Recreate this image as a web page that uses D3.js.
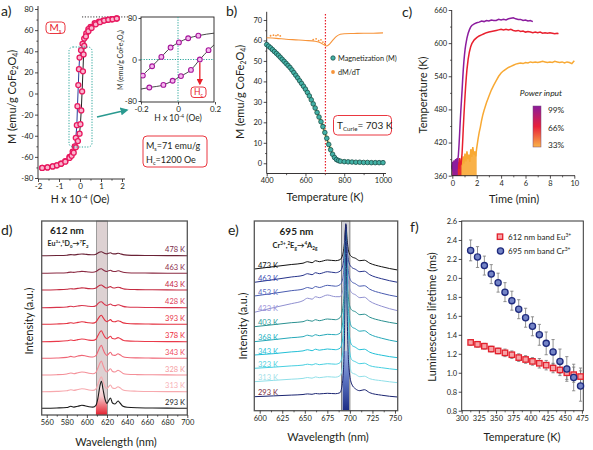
<!DOCTYPE html>
<html><head><meta charset="utf-8">
<script src="https://cdn.jsdelivr.net/npm/d3@7"></script>
<style>body{margin:0;background:#fff} svg{display:block}</style>
</head><body>
<script>
// ================= DATA =================
// Panel a: hysteresis loop
const hystDescH = [1.75,1.5,1.3,1.1,0.9,0.7,0.5,0.4,0.3,0.2,0.12,0.05,-0.02,-0.05,-0.08,-0.12,-0.15,-0.2,-0.25,-0.35,-0.5,-0.7,-0.9,-1.1,-1.3,-1.55,-1.8];
const hystDescM = [71,70.3,69.7,69,68,66.5,63,61,57,52,47,41,34,23,8,-12,-30,-42,-50,-55,-60,-64,-66.5,-68,-69,-70,-70.5];
const hystAscH = [-1.8,-1.55,-1.3,-1.1,-0.9,-0.7,-0.5,-0.4,-0.3,-0.2,-0.1,-0.02,0.02,0.06,0.1,0.14,0.17,0.2,0.28,0.4,0.55,0.75,0.95,1.15,1.35,1.55,1.75];
const hystAscM = [-70.5,-70,-69,-68,-66.5,-64.5,-61,-59,-56,-51,-45,-38,-29,-16,2,21,37,45,54,59,62,65.5,67.5,69,69.8,70.3,71];
const aXTicks = [-2,-1,0,1,2];
const aYTicks = [-80,-60,-40,-20,0,20,40,60,80];
// Panel a inset
const insUpH = [-0.2,-0.19,-0.14,-0.09,-0.04,0.005,0.055,0.11,0.2];
const insUpM = [-36,-31,-13,5,23,33,41,46,51];
const insLoH = [-0.2,-0.155,-0.079,-0.029,0.016,0.07,0.118,0.165,0.2];
const insLoM = [-57,-54,-49,-41,-32,-20,0,18,30];
const insXTicks = [-0.2,0,0.2];
const insYTicks = [-80,0,80];

// Panel b: magnetization vs temperature
const magT = [400,410,420,430,440,450,460,470,480,490,500,510,520,530,540,550,560,570,580,590,600,610,620,630,640,650,660,670,680,690,700,710,720,730,740,750,760,770,780,800,820,840,860,880,900,920,940,960,980,1000];
const magM = [58.0,57.2,56.4,55.5,54.6,53.7,52.8,51.8,50.8,49.8,48.8,47.8,46.8,45.6,44.3,43.0,41.7,40.3,39.0,37.6,36.2,34.6,32.9,31.0,29.0,27.0,24.8,22.6,20.3,17.9,15.0,12.2,9.2,6.6,4.4,2.8,1.8,1.3,1.0,0.8,0.7,0.6,0.5,0.5,0.4,0.4,0.3,0.3,0.3,0.3];
const dmdtT = [400,450,500,550,600,650,680,700,710,720,740,760,780,800,850,900,950,1000];
const dmdtV = [61.3,61.0,60.6,60.3,60.0,59.6,58.8,57.6,57.3,57.9,60.0,62.0,63.0,63.3,63.4,63.5,63.5,63.7];
const dmdtDotsT = [420,435,448,458,470,640,655,668,680,690,700];
const dmdtDotsV = [62.3,62.6,62.4,62.7,62.2,60.4,60.8,59.9,60.3,59.2,58.4];
const tCurie = 703;
const bXTicks = [400,600,800,1000];
const bYTicks = [0,10,20,30,40,50,60,70];

// Panel c: heating curves
const cPurpleT = [0,0.03,0.06,0.09,0.12,0.15,0.18,0.21,0.24,0.27,0.3,0.33,0.36,0.39,0.42,0.45,0.5,0.55,0.6,0.65,0.7,0.75,0.8,0.85,0.9,0.95,1.0,1.05,1.1,1.2,1.3,1.4,1.5,1.6,1.8,2.0,2.2,2.4,2.6,2.8,3.0,3.2,3.4,3.6,3.8,4.0,4.2,4.4,4.6,4.8,5.0,5.2,5.4,5.6,5.8,6.0,6.2,6.4,6.6];
const cPurpleV = [372,385,368,380,366,388,371,383,369,390,374,386,372,392,380,388,398,415,436,458,478,496,514,534,552,567,579,589,597,609,618,624,629,632,635,637,638,640,639,641,640,642,641,641,643,642,643,642,644,645,646,644,643,643,641,642,640,641,639];
const cRedT = [0,0.04,0.08,0.12,0.16,0.2,0.24,0.28,0.32,0.36,0.4,0.44,0.48,0.52,0.56,0.6,0.64,0.68,0.72,0.75,0.8,0.85,0.9,0.95,1.0,1.05,1.1,1.15,1.2,1.3,1.4,1.5,1.6,1.8,2.0,2.2,2.4,2.6,2.8,3.0,3.2,3.4,3.6,3.8,4.0,4.2,4.4,4.6,4.8,5.0,5.2,5.4,5.6,5.8,6.0,6.2,6.4,6.6,6.8,7.0,7.2,7.4,7.6,7.8,8.0,8.2,8.4,8.6,8.7];
const cRedV = [375,382,370,386,372,380,368,388,374,383,371,390,376,384,372,392,378,387,380,388,400,422,446,468,488,507,524,539,552,571,584,593,599,606,610,613,615,617,619,620,621,622,623,624,625,624,625,624,625,623,622,623,621,622,620,621,620,619,620,619,620,618,619,618,619,618,617,618,617];
const cOrangeT = [0,0.08,0.16,0.24,0.32,0.4,0.48,0.56,0.64,0.72,0.8,0.88,0.96,1.04,1.12,1.2,1.28,1.36,1.44,1.52,1.6,1.68,1.76,1.84,1.92,2.0,2.1,2.2,2.3,2.4,2.5,2.6,2.8,3.0,3.2,3.4,3.6,3.8,4.0,4.2,4.4,4.6,4.8,5.0,5.2,5.4,5.6,5.8,6.0,6.2,6.4,6.6,6.8,7.0,7.2,7.4,7.6,7.8,8.0,8.2,8.4,8.6,8.8,9.0,9.2,9.4,9.6,9.8,10.0];
const cOrangeV = [370,376,368,380,372,378,366,384,374,390,378,395,382,400,386,404,390,398,385,408,394,412,398,404,395,410,425,438,448,460,470,478,492,504,515,524,532,540,546,550,553,556,558,560,562,563,564,563,565,564,566,565,566,565,566,567,566,565,566,565,567,566,565,566,564,566,565,563,568];
const cNoiseEnd = [0.45,0.75,2.0];
const cSeriesNames = ["99%","66%","33%"];
const cXTicks = [0,2,4,6,8,10];
const cYTicks = [360,420,480,540,600,660];

// Panel d: Eu3+ emission spectra
const dWave = [555,570,580,584,587,591,595,598,602,606,609,611,613,614.5,616,618,620,621.5,623.5,625.5,628,631,633,636,640,650,665,680,700];
const dTemps = ["293 K","313 K","328 K","343 K","378 K","393 K","428 K","443 K","463 K","478 K"];
const dSpec293 = [6.7,7.0,7.5,8.7,7.9,8.7,9.7,9.3,8.3,7.9,9.7,17,29,33.7,26,16,11.7,14,17,12,11,14,12,8.7,7.7,7.2,7.0,6.9,6.7];
const dSpec313 = [23.3,23.6,24.2,25.3,24.6,25.5,26.3,26,25,24.6,26,31,36,38.3,34,28.5,26.5,28,30,27,26.5,28.2,27.2,25,24.2,23.8,23.5,23.4,23.3];
const dSpec328 = [40,40.3,41,42,41.3,42.3,43,42.7,41.7,41.3,42.7,47,52,54,50,45,43,44.5,46.3,43.5,43,44.8,43.8,41.6,40.8,40.4,40.2,40.1,40];
const dSpec343 = [56.7,57,57.6,58.6,58,59,59.6,59.3,58.3,58,59.3,63.5,68,69.7,66,61.5,59.6,61,62.7,60,59.6,61.2,60.2,58.2,57.5,57.1,56.9,56.8,56.7];
const dSpec378 = [73.3,73.6,74.2,75,74.5,75.4,76,75.7,74.9,74.6,75.8,79.5,83,84.3,81.5,77.8,76.2,77.3,78.7,76.4,76,77.4,76.6,74.8,74.1,73.7,73.5,73.4,73.3];
const dSpec393 = [90.7,91,91.5,92.3,91.8,92.6,93.2,92.9,92.2,91.9,93,96,98.8,99.7,97.6,94.6,93.3,94.2,95.4,93.5,93.2,94.3,93.7,92.1,91.5,91.1,90.9,90.8,90.7];
const dSpec428 = [107.3,107.6,108,108.7,108.3,109,109.5,109.3,108.7,108.5,109.3,111.3,113,113.3,112,110.2,109.5,110.2,111,109.7,109.4,110.3,109.8,108.6,108,107.7,107.5,107.4,107.3];
const dSpec443 = [125,125.3,125.7,126.3,126,126.6,127.1,126.9,126.4,126.2,126.9,128.5,129.8,130,129,127.6,127,127.7,128.4,127.2,127,127.8,127.4,126.3,125.7,125.4,125.2,125.1,125];
const dSpec463 = [141.7,142,142.3,142.9,142.6,143.2,143.6,143.4,143,142.8,143.4,144.8,146,146.2,145.3,144,143.5,144.2,144.8,143.8,143.5,144.2,143.8,142.8,142.3,142,141.9,141.8,141.7];
const dSpec478 = [159.3,159.5,159.8,160.4,160.1,160.6,161,160.8,160.4,160.2,160.8,162,163,163.3,162.5,161.5,161.1,161.7,162.2,161.3,161.1,161.7,161.3,160.4,159.9,159.6,159.5,159.4,159.3];
const dBand = [609.5,620.5];
const dXTicks = [560,580,600,620,640,660,680,700];

// Panel e: Cr3+ emission spectra
const eWave = [594,615,635,648,653,658,662,666,675,684,689,692,694,695.5,697,699,702,706,711,716,722,735,753];
const eTemps = ["293 K","313 K","323 K","343 K","368 K","403 K","423 K","453 K","463 K","473 K"];
const eSpec293 = [14,14.8,15.6,16.2,16.8,16.4,17.2,16.8,17.4,17,18,30,75,187,95,42,26.7,22,20,21,18,15.5,13.7];
const eSpec313 = [29,30.3,31.5,32.3,33.2,32.5,33.8,33,34,33.5,35,45,85,170,105,55,38,36.5,34,34.5,32,30,28];
const eSpec323 = [42.4,43.5,44.8,45.6,46.5,45.8,47,46,47,46.5,48,58,95,172,110,65,51,49,47,47.5,45,43,41];
const eSpec343 = [55.7,57,58.8,59.8,61,60,61.5,60.5,61.7,61,62.5,72,105,175,115,78,65.7,63.5,61,61.5,58.5,55.5,53];
const eSpec368 = [69,71,73,74,75.5,74.5,76,75,76.4,76,77.5,88,115,178,125,95,84,82,79.5,80,76.5,72.5,69];
const eSpec403 = [84,86,88,89,90.5,89.5,91,90,91.7,91,93,102,125,180,135,108,100.7,99,96,96.5,93.5,90,87];
const eSpec423 = [98.4,103,107,110,112.5,111.5,114,113,115.7,114,114,120,140,178,145,125,118,116,113,113.5,109.5,104.5,100];
const eSpec453 = [114.7,117.3,120,121.6,123.2,122.2,124.2,123.2,125.4,124.5,126,132,150,182,155,135,129,127,124.5,125,121.5,117.5,114];
const eSpec463 = [128.4,131,133.7,135.3,137,136,138,137,139,138,139.5,145,160,184,162,148,143.4,141.5,139,139.5,136,132,128.4];
const eSpec473 = [141.7,144,146.2,147.5,149,148,150,149,150.7,150,151,156,168,186,170,158,154,152.5,150,150.5,147.5,144,140.7];
const eBand = [690.8,700];
const eXTicks = [600,625,650,675,700,725,750];

// Panel f: luminescence lifetimes
const fTemps = [313,323,333,343,353,363,373,383,393,403,413,423,433,443,453,463,473];
const fEu = [1.32,1.30,1.28,1.25,1.23,1.21,1.19,1.16,1.14,1.12,1.10,1.08,1.05,1.03,1.00,0.98,0.96];
const fEuErr = [0.03,0.03,0.03,0.03,0.03,0.04,0.04,0.04,0.04,0.04,0.05,0.05,0.05,0.06,0.07,0.08,0.09];
const fCr = [2.29,2.22,2.13,2.04,1.95,1.85,1.76,1.67,1.58,1.49,1.40,1.31,1.22,1.12,1.04,0.95,0.86];
const fCrErr = [0.11,0.11,0.10,0.10,0.10,0.10,0.10,0.10,0.10,0.10,0.11,0.12,0.13,0.13,0.13,0.14,0.16];
const fXTicks = [300,325,350,375,400,425,450,475];
const fYTicks = [0.6,0.8,1.0,1.2,1.4,1.6,1.8,2.0,2.2,2.4,2.6];
const fYLabels = ["0.8","0.8","1.0","1.2","1.4","1.6","1.8","2.0","2.2","2.4","2.6"];

// ================= DRAWING =================
const FONT = "Lato, 'Open Sans', 'Liberation Sans', sans-serif";
const INK = "#231f20";
const svg = d3.select("body").append("svg").attr("width",593).attr("height",450).attr("font-family",FONT);
svg.append("rect").attr("width",593).attr("height",450).attr("fill","#fff");
const defs = svg.append("defs");

function grad(id, stops, x2, y2){
  const g = defs.append("linearGradient").attr("id",id).attr("x1",0).attr("y1",0).attr("x2",x2).attr("y2",y2);
  stops.forEach(s=>g.append("stop").attr("offset",s[0]).attr("stop-color",s[1]));
}
grad("cbar",[[0,"#8a1c9c"],[0.5,"#e8203a"],[1,"#f9b347"]],0,1);
grad("dfill",[[0,"#ffffff"],[0.45,"#f6c9cc"],[1,"#e3202e"]],0,1);
grad("efill",[[0,"#9fb4e4"],[0.5,"#5a72c0"],[1,"#1c2c84"]],0,1);

function rich(g, x, y, parts, o={}){
  const size = o.size||9;
  const t = g.append("text").attr("x",x).attr("y",y).attr("font-size",size)
    .attr("fill",o.fill||INK).attr("text-anchor",o.anchor||"start")
    .attr("font-weight",o.weight||"normal");
  if (o.rotate) t.attr("transform",`rotate(${o.rotate},${x},${y})`);
  if (o.italic) t.attr("font-style","italic");
  let shift = 0;
  parts.forEach(p=>{
    const s = Array.isArray(p)?p[0]:p, k = Array.isArray(p)?p[1]:"n";
    const target = k==="sub" ? 0.22*size : (k==="sup" ? -0.36*size : 0);
    const ts = t.append("tspan").text(s).attr("dy", (target-shift).toFixed(2));
    if (k!=="n") ts.attr("font-size", (0.62*size).toFixed(2));
    shift = target;
  });
  return t;
}
function axis(g, kind, scale, pos, o){
  const gen = kind==="bottom"?d3.axisBottom:d3.axisLeft;
  const tr = kind==="bottom"?`translate(0,${pos})`:`translate(${pos},0)`;
  const size = o.size||3;
  const gg = g.append("g").attr("transform",tr)
    .call(gen(scale).tickValues(o.values).tickSize(size).tickPadding(o.pad||1.5).tickFormat(o.format||(d=>String(d))));
  gg.select(".domain").remove();
  gg.selectAll("line").attr("stroke",INK).attr("stroke-width",0.8);
  gg.selectAll("text").attr("font-size",o.fs||7.5).attr("fill",INK).attr("font-family",FONT);
  if (o.minor){
    const mg = g.append("g").attr("transform",tr).call(gen(scale).tickValues(o.minor).tickSize(size*0.55).tickFormat(""));
    mg.select(".domain").remove();
    mg.selectAll("line").attr("stroke",INK).attr("stroke-width",0.7);
  }
  return gg;
}
function hline(g,x1,x2,y,o={}){g.append("line").attr("x1",x1).attr("x2",x2).attr("y1",y).attr("y2",y).attr("stroke",o.c||INK).attr("stroke-width",o.w||0.9).attr("stroke-dasharray",o.dash||null);}
function vline(g,x,y1,y2,o={}){g.append("line").attr("x1",x).attr("x2",x).attr("y1",y1).attr("y2",y2).attr("stroke",o.c||INK).attr("stroke-width",o.w||0.9).attr("stroke-dasharray",o.dash||null);}
function pathXY(xs, ys, xS, yS, curve){
  return d3.line().x((d,i)=>xS(xs[i])).y(d=>yS(d)).curve(curve||d3.curveLinear)(ys);
}
function plabel(x,y,s){ svg.append("text").attr("x",x).attr("y",y).attr("font-size",14).attr("fill",INK).text(s); }

// ---------- Panel a ----------
{
  const g = svg.append("g");
  const x = d3.scaleLinear().domain([-2,2]).range([38,122]);
  const y = d3.scaleLinear().domain([-80,80]).range([178,9]);
  vline(g,38,6,179); hline(g,38,125,179);
  axis(g,"left",y,38,{values:aYTicks,minor:[-70,-50,-30,-10,10,30,50,70],fs:8});
  axis(g,"bottom",x,179,{values:aXTicks,minor:[-1.5,-0.5,0.5,1.5],fs:8});
  hline(g,82,128,y(72.5),{dash:"1.2,1.6",w:0.9});
  g.append("path").attr("d",pathXY(hystDescH,hystDescM,x,y)).attr("fill","none").attr("stroke","#2b3a98").attr("stroke-width",1);
  g.append("path").attr("d",pathXY(hystAscH,hystAscM,x,y)).attr("fill","none").attr("stroke","#222").attr("stroke-width",1);
  const pts = hystDescH.map((h,i)=>[h,hystDescM[i]]).concat(hystAscH.map((h,i)=>[h,hystAscM[i]]));
  g.selectAll("circle.m").data(pts).join("circle").attr("cx",d=>x(d[0])).attr("cy",d=>y(d[1])).attr("r",2.5)
    .attr("fill","#f9b6cf").attr("stroke","#e8185f").attr("stroke-width",1.3);
  g.append("rect").attr("x",69).attr("y",47).attr("width",23).attr("height",100).attr("rx",4)
    .attr("fill","none").attr("stroke","#2aa59a").attr("stroke-width",1).attr("stroke-dasharray","1.2,1.5");
  defs.append("marker").attr("id","tealArrow").attr("viewBox","0 0 10 10").attr("refX",8).attr("refY",5)
    .attr("markerWidth",5).attr("markerHeight",5).attr("orient","auto")
    .append("path").attr("d","M0,0L10,5L0,10z").attr("fill","#2a9a90");
  g.append("line").attr("x1",97).attr("y1",117).attr("x2",127).attr("y2",110).attr("stroke","#2a9a90").attr("stroke-width",1.6).attr("marker-end","url(#tealArrow)");
  g.append("rect").attr("x",46).attr("y",22).attr("width",19).attr("height",11.5).attr("rx",3.5).attr("fill","#fff").attr("stroke","#e8202a").attr("stroke-width",0.9);
  rich(g,55.5,31,["M",["s","sub"]],{size:10,fill:"#e8202a",anchor:"middle"});
  rich(g,16,97,["M (emu/g CoFe",["2","sub"],"O",["4","sub"],")"],{size:11,anchor:"middle",rotate:-90});
  rich(g,80,203,["H x 10",["-4","sup"]," (Oe)"],{size:10.5,anchor:"middle"});

  // Inset
  const xi = d3.scaleLinear().domain([-0.2,0.2]).range([141,215]);
  const yi = d3.scaleLinear().domain([-80,80]).range([101,18]);
  g.append("rect").attr("x",141).attr("y",17).attr("width",73).attr("height",85).attr("fill","#fff").attr("stroke",INK).attr("stroke-width",0.9);
  hline(g,141,214,yi(0),{c:"#2aa59a",dash:"1.2,1.4",w:1});
  vline(g,xi(0),17,102,{c:"#2aa59a",dash:"1.2,1.4",w:1});
  axis(g,"left",yi,141,{values:insYTicks,fs:8,size:2.5});
  axis(g,"bottom",xi,102,{values:insXTicks,fs:8,size:2.5});
  const clipI = defs.append("clipPath").attr("id","clipIns");
  clipI.append("rect").attr("x",141).attr("y",17).attr("width",73).attr("height",85);
  const gi = g.append("g").attr("clip-path","url(#clipIns)");
  gi.append("path").attr("d",pathXY(insUpH,insUpM,xi,yi,d3.curveMonotoneX)).attr("fill","none").attr("stroke","#333").attr("stroke-width",0.9);
  gi.append("path").attr("d",pathXY(insLoH,insLoM,xi,yi,d3.curveMonotoneX)).attr("fill","none").attr("stroke","#333").attr("stroke-width",0.9);
  const ip = insUpH.slice(1,8).map((h,i)=>[h,insUpM[i+1]]).concat(insLoH.slice(1,8).map((h,i)=>[h,insLoM[i+1]]));
  gi.selectAll("circle").data(ip).join("circle").attr("cx",d=>xi(d[0])).attr("cy",d=>yi(d[1])).attr("r",2.4)
    .attr("fill","#f6b8ee").attr("stroke","#a5169c").attr("stroke-width",1.1);
  defs.append("marker").attr("id","redArrow").attr("viewBox","0 0 10 10").attr("refX",8).attr("refY",5)
    .attr("markerWidth",5).attr("markerHeight",5).attr("orient","auto")
    .append("path").attr("d","M0,0L10,5L0,10z").attr("fill","#e8202a");
  g.append("line").attr("x1",xi(0.118)).attr("y1",yi(0)+3).attr("x2",xi(0.118)).attr("y2",84).attr("stroke","#e8202a").attr("stroke-width",1.3).attr("marker-end","url(#redArrow)");
  g.append("rect").attr("x",191).attr("y",87).attr("width",15).attr("height",10.5).attr("rx",3).attr("fill","#fff").attr("stroke","#e8202a").attr("stroke-width",0.9);
  rich(g,198.5,94.8,["H",["c","sub"]],{size:8.5,fill:"#e8202a",anchor:"middle"});
  rich(g,122.5,60,["M (emu/g CoFe",["2","sub"],"O",["4","sub"],")"],{size:7,anchor:"middle",rotate:-90});
  rich(g,178,121,["H x 10",["-4","sup"]," (Oe)"],{size:8.5,anchor:"middle"});
  g.append("rect").attr("x",143).attr("y",136).attr("width",64).attr("height",31).attr("rx",4).attr("fill","#fff").attr("stroke","#e8202a").attr("stroke-width",0.9);
  rich(g,146,149,["M",["s","sub"],"=71 emu/g"],{size:9});
  rich(g,146,163,["H",["c","sub"],"=1200 Oe"],{size:9});
  plabel(1,16,"a)");
}

// ---------- Panel b ----------
{
  const g = svg.append("g");
  const x = d3.scaleLinear().domain([400,1000]).range([266.7,383]);
  const y = d3.scaleLinear().domain([-5,74]).range([173.5,11.8]);
  vline(g,266.7,11.8,173.5); hline(g,266.7,386,173.5);
  axis(g,"left",y,266.7,{values:bYTicks,minor:[5,15,25,35,45,55,65],fs:7.5});
  axis(g,"bottom",x,173.5,{values:bXTicks,minor:[500,700,900],fs:7.5});
  vline(g,x(tCurie),14,173.5,{c:"#e8202a",dash:"1.5,1.5",w:1.2});
  g.append("path").attr("d",pathXY(dmdtT,dmdtV,x,y,d3.curveMonotoneX)).attr("fill","none").attr("stroke","#f7943a").attr("stroke-width",1.1);
  g.selectAll("circle.dd").data(dmdtDotsT).join("circle").attr("cx",d=>x(d)).attr("cy",(d,i)=>y(dmdtDotsV[i])).attr("r",0.9).attr("fill","#f7943a");
  g.append("path").attr("d",pathXY(magT,magM,x,y)).attr("fill","none").attr("stroke","#f4efa0").attr("stroke-width",4).attr("opacity",0.7);
  g.append("path").attr("d",pathXY(magT,magM,x,y)).attr("fill","none").attr("stroke","#111").attr("stroke-width",0.9);
  g.selectAll("circle.mm").data(magT).join("circle").attr("cx",d=>x(d)).attr("cy",(d,i)=>y(magM[i])).attr("r",2.3)
    .attr("fill","#43b2a6").attr("stroke","#1b514c").attr("stroke-width",0.8);
  g.append("circle").attr("cx",333).attr("cy",58).attr("r",2.2).attr("fill","#43b2a6").attr("stroke","#1b514c").attr("stroke-width",0.8);
  g.append("text").attr("x",338).attr("y",60.7).attr("font-size",7.3).attr("fill",INK).text("Magnetization (M)");
  g.append("circle").attr("cx",333).attr("cy",72).attr("r",1.9).attr("fill","#f7943a");
  g.append("text").attr("x",338).attr("y",74.7).attr("font-size",7.3).attr("fill",INK).text("dM/dT");
  g.append("rect").attr("x",333.5).attr("y",115.5).attr("width",58).attr("height",19.5).attr("rx",4).attr("fill","#fff").attr("stroke","#e8202a").attr("stroke-width",0.9);
  rich(g,337,129,["T",["Curie","sub"],"= 703 K"],{size:10});
  rich(g,244,92,["M (emu/g CoFe",["2","sub"],"O",["4","sub"],")"],{size:11,anchor:"middle",rotate:-90});
  g.append("text").attr("x",325).attr("y",201).attr("font-size",11).attr("text-anchor","middle").attr("fill",INK).text("Temperature (K)");
  plabel(226,16,"b)");
}

// ---------- Panel c ----------
{
  const g = svg.append("g");
  const x = d3.scaleLinear().domain([0,10]).range([452.3,574.3]);
  const y = d3.scaleLinear().domain([360,660]).range([175.7,10]);
  const series = [[cPurpleT,cPurpleV,"#8c1d9e"],[cRedT,cRedV,"#e8202e"],[cOrangeT,cOrangeV,"#f8a934"]];
  [2,1,0].forEach(k=>{
    const [ts,vs,col] = series[k];
    const idx = ts.map((t,i)=>i).filter(i=>ts[i]<=cNoiseEnd[k]);
    const area = d3.area().x(i=>x(ts[i])).y0(y(360)).y1(i=>y(vs[i]));
    g.append("path").attr("d",area(idx)).attr("fill",col).attr("opacity",0.9);
    g.append("path").attr("d",pathXY(ts,vs,x,y)).attr("fill","none").attr("stroke",col).attr("stroke-width",1.5);
  });
  vline(g,451.7,10,175.7); hline(g,451.7,575,175.7);
  axis(g,"left",y,451.7,{values:cYTicks,minor:[390,450,510,570,630],fs:7.5});
  axis(g,"bottom",x,175.7,{values:cXTicks,minor:[1,3,5,7,9],fs:7.5});
  g.append("text").attr("x",541).attr("y",96).attr("font-size",8.5).attr("font-style","italic").attr("text-anchor","middle").attr("fill",INK).text("Power input");
  g.append("rect").attr("x",533).attr("y",106).attr("width",8).attr("height",41).attr("fill","url(#cbar)").attr("stroke","#7a4a7a").attr("stroke-width",0.5);
  [[113,cSeriesNames[0]],[131,cSeriesNames[1]],[148,cSeriesNames[2]]].forEach(d=>
    g.append("text").attr("x",548).attr("y",d[0]).attr("font-size",8.3).attr("fill",INK).text(d[1]));
  g.append("text").attr("transform","rotate(-90,427,95)").attr("x",427).attr("y",95).attr("font-size",11).attr("text-anchor","middle").attr("fill",INK).text("Temperature (K)");
  g.append("text").attr("x",514).attr("y",203).attr("font-size",11).attr("text-anchor","middle").attr("fill",INK).text("Time (min)");
  plabel(402,17,"c)");
}

// ---------- Panel d ----------
{
  const g = svg.append("g");
  const x = d3.scaleLinear().domain([555,700]).range([41.7,187.3]);
  const y = d3.scaleLinear().domain([0,194]).range([415,221]);
  g.append("rect").attr("x",x(dBand[0])).attr("y",221).attr("width",x(dBand[1])-x(dBand[0])).attr("height",194)
    .attr("fill","#ddd1d2").attr("stroke","#8a8a8a").attr("stroke-width",0.8);
  const specs = [dSpec293,dSpec313,dSpec328,dSpec343,dSpec378,dSpec393,dSpec428,dSpec443,dSpec463,dSpec478];
  const cols = ["#1a1a1a","#f7a9ae","#f48f98","#ef6676","#ea3a4a","#e4303f","#d8354c","#c42a40","#8a2a42","#6a2236"];
  const lcols = ["#222","#f8b0b5","#f59aa0","#ef4a5c","#ee2a3a","#e83242","#e0405a","#c4243e","#8b2a4a","#7a2a4a"];
  const bi = dWave.map((w,i)=>i).filter(i=>dWave[i]>=dBand[0]-1.5 && dWave[i]<=dBand[1]);
  g.append("path").attr("d",d3.area().x(i=>x(dWave[i])).y0(415).y1(i=>y(dSpec293[i])).curve(d3.curveMonotoneX)(bi)).attr("fill","url(#dfill)");
  specs.forEach((s,k)=>{
    g.append("path").attr("d",pathXY(dWave,s,x,y,d3.curveMonotoneX)).attr("fill","none").attr("stroke",cols[k]).attr("stroke-width",1.1);
    g.append("text").attr("x",185).attr("y",y(s[0])-3.5).attr("text-anchor","end").attr("font-size",7.5).attr("fill",lcols[k]).text(dTemps[k]);
  });
  g.append("rect").attr("x",41.7).attr("y",221).attr("width",145.6).attr("height",194).attr("fill","none").attr("stroke","#555").attr("stroke-width",1.3);
  axis(g,"bottom",x,415,{values:dXTicks,minor:[570,590,610,630,650,670,690],fs:7.5});
  g.append("text").attr("x",67).attr("y",234).attr("font-size",10).attr("font-weight","bold").attr("text-anchor","middle").attr("fill",INK).text("612 nm");
  rich(g,68,246,["Eu",["3+","sup"],",",["5","sup"],"D",["0","sub"],"→",["7","sup"],"F",["2","sub"]],{size:7,weight:"bold",anchor:"middle"});
  g.append("text").attr("transform","rotate(-90,33,321)").attr("x",33).attr("y",321).attr("font-size",11).attr("text-anchor","middle").attr("fill",INK).text("Intensity (a.u.)");
  g.append("text").attr("x",116).attr("y",446).attr("font-size",11).attr("text-anchor","middle").attr("fill",INK).text("Wavelength (nm)");
  plabel(1,235,"d)");
}

// ---------- Panel e ----------
{
  const g = svg.append("g");
  const x = d3.scaleLinear().domain([594,753]).range([254.3,397.7]);
  const y = d3.scaleLinear().domain([0,189.7]).range([410.7,221]);
  g.append("rect").attr("x",x(eBand[0])).attr("y",221).attr("width",x(eBand[1])-x(eBand[0])).attr("height",189.7)
    .attr("fill","#d3d3d7").attr("stroke","#666").attr("stroke-width",0.8);
  const clip = defs.append("clipPath").attr("id","clipE");
  clip.append("rect").attr("x",254.3).attr("y",221).attr("width",143.4).attr("height",189.7);
  const gc = g.append("g").attr("clip-path","url(#clipE)");
  const specs = [eSpec293,eSpec313,eSpec323,eSpec343,eSpec368,eSpec403,eSpec423,eSpec453,eSpec463,eSpec473];
  const cols = ["#1a2470","#8fdfe8","#48cfe0","#22bfd6","#26a8b8","#2a9090","#9090d0","#4a5cb0","#26338a","#111111"];
  const lcols = ["#7a2a3a","#a0e0e8","#50d0e0","#28c0d8","#20b0c0","#2a9a9a","#9a90d8","#5a6ac0","#3a4ab0","#111111"];
  const bi = eWave.map((w,i)=>i).filter(i=>eWave[i]>=eBand[0]-1 && eWave[i]<=eBand[1]);
  gc.append("path").attr("d",d3.area().x(i=>x(eWave[i])).y0(410.7).y1(i=>y(Math.min(eSpec293[i],60))).curve(d3.curveMonotoneX)(bi)).attr("fill","url(#efill)");
  for (let k=specs.length-1;k>=0;k--){
    gc.append("path").attr("d",pathXY(eWave,specs[k],x,y,d3.curveMonotoneX)).attr("fill","none").attr("stroke",cols[k]).attr("stroke-width",1);
  }
  specs.forEach((s,k)=>{
    g.append("text").attr("x",258).attr("y",y(s[0])-1.5).attr("font-size",7.5).attr("fill",lcols[k]).text(eTemps[k]);
  });
  g.append("rect").attr("x",254.3).attr("y",221).attr("width",143.4).attr("height",189.7).attr("fill","none").attr("stroke","#555").attr("stroke-width",1.3);
  axis(g,"bottom",x,410.7,{values:eXTicks,minor:[612.5,637.5,662.5,687.5,712.5,737.5],fs:7.5});
  g.append("text").attr("x",296.5).attr("y",235).attr("font-size",10).attr("font-weight","bold").attr("text-anchor","middle").attr("fill",INK).text("695 nm");
  rich(g,295,248,["Cr",["3+","sup"],",",["2","sup"],"E",["g","sub"],"→",["4","sup"],"A",["2g","sub"]],{size:7.5,weight:"bold",anchor:"middle"});
  g.append("text").attr("transform","rotate(-90,247,326)").attr("x",247).attr("y",326).attr("font-size",11).attr("text-anchor","middle").attr("fill",INK).text("Intensity (a.u.)");
  g.append("text").attr("x",328).attr("y",441).attr("font-size",11).attr("text-anchor","middle").attr("fill",INK).text("Wavelength (nm)");
  plabel(228,235,"e)");
}

// ---------- Panel f ----------
{
  const g = svg.append("g");
  const x = d3.scaleLinear().domain([300,477]).range([461.7,583.3]);
  const y = d3.scaleLinear().domain([0.6,2.6]).range([410.7,221]);
  g.append("rect").attr("x",461.7).attr("y",221).attr("width",121.6).attr("height",189.7).attr("fill","none").attr("stroke","#333").attr("stroke-width",1);
  axis(g,"left",y,461.7,{values:fYTicks,format:(d,i)=>fYLabels[i],fs:7.5});
  axis(g,"bottom",x,410.7,{values:fXTicks,minor:[312.5,337.5,362.5,387.5,412.5,437.5,462.5],fs:7.5});
  function errs(vals,errsA){
    fTemps.forEach((t,i)=>{
      const cx = x(t), y1=y(vals[i]+errsA[i]), y2=y(vals[i]-errsA[i]);
      vline(g,cx,y1,y2,{c:"#777",w:0.8});
      hline(g,cx-1.6,cx+1.6,y1,{c:"#777",w:0.8});
      hline(g,cx-1.6,cx+1.6,y2,{c:"#777",w:0.8});
    });
  }
  errs(fEu,fEuErr); errs(fCr,fCrErr);
  g.selectAll("rect.eu").data(fTemps).join("rect").attr("x",d=>x(d)-2.7).attr("y",(d,i)=>y(fEu[i])-2.7).attr("width",5.4).attr("height",5.4)
    .attr("fill","#f6a3a6").attr("stroke","#e3202c").attr("stroke-width",1.3);
  g.selectAll("circle.cr").data(fTemps).join("circle").attr("cx",d=>x(d)).attr("cy",(d,i)=>y(fCr[i])).attr("r",3.1)
    .attr("fill","#7484c6").attr("stroke","#1e2a7e").attr("stroke-width",1.3);
  g.append("rect").attr("x",497.3).attr("y",234).attr("width",5.4).attr("height",5.4).attr("fill","#f6a3a6").attr("stroke","#e3202c").attr("stroke-width",1.3);
  rich(g,508,239.7,["612 nm band Eu",["3+","sup"]],{size:8});
  g.append("circle").attr("cx",500.5).attr("cy",251).attr("r",3.1).attr("fill","#7484c6").attr("stroke","#1e2a7e").attr("stroke-width",1.3);
  rich(g,508,254,["695 nm band Cr",["3+","sup"]],{size:8});
  g.append("text").attr("transform","rotate(-90,435.5,317)").attr("x",435.5).attr("y",317).attr("font-size",11).attr("text-anchor","middle").attr("fill",INK).text("Luminescence lifetime (ms)");
  g.append("text").attr("x",522).attr("y",441).attr("font-size",11).attr("text-anchor","middle").attr("fill",INK).text("Temperature (K)");
  plabel(410,232,"f)");
}
</script>
</body></html>
